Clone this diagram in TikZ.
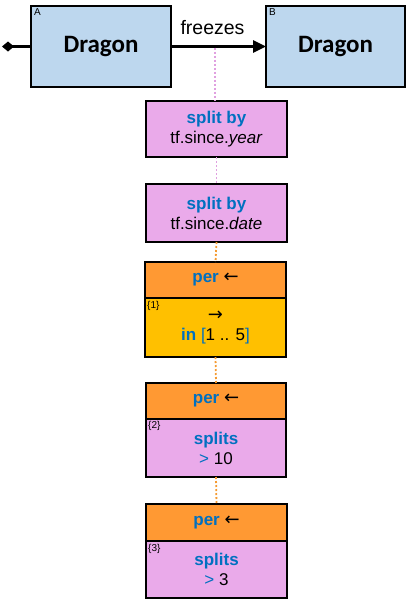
\documentclass[tikz,border=0pt]{standalone}
\usepackage{fontspec}
\setmainfont{Liberation Sans}
\newfontfamily\calfont{Carlito}
\newfontfamily\arrfont{DejaVu Sans}
\usetikzlibrary{arrows.meta}
\definecolor{ent}{HTML}{BDD7EE}
\definecolor{pk}{HTML}{EAAAEA}
\definecolor{orh}{HTML}{FF9933}
\definecolor{yel}{HTML}{FFC000}
\definecolor{bt}{HTML}{0070C0}
\definecolor{pkline}{HTML}{E0A0E0}
\definecolor{orline}{HTML}{F59A30}
\tikzset{
  entbox/.style={draw=black,line width=2.6pt,fill=ent,inner sep=0pt,outer sep=0pt,font=\calfont\bfseries\fontsize{25}{27}\selectfont},
  opbox/.style={draw=black,line width=2.6pt,inner sep=0pt,outer sep=0pt,align=center,font=\fontsize{17}{20}\selectfont},
  conn/.style={line width=2.6pt},
  pkdot/.style={pkline,line width=1.8pt,dash pattern=on 2pt off 2pt},
  ordot/.style={orline,line width=1.8pt,dash pattern=on 2pt off 2pt},
  tag/.style={inner sep=0pt,anchor=north west,font=\fontsize{10}{11}\selectfont}
}
\newcommand{\kwd}[1]{\textcolor{bt}{\bfseries #1}}
\newcommand{\la}{{\arrfont\fontsize{18}{20}\selectfont ←}}
\newcommand{\ra}{{\arrfont\fontsize{18}{20}\selectfont →}}
\begin{document}
\begin{tikzpicture}[x=1pt,y=-1pt]
\useasboundingbox (0,0) rectangle (408,600);
% entities
\node[entbox,minimum width=140pt,minimum height=81pt] (A) at (101,46.5) {Dragon};
\node[entbox,minimum width=139pt,minimum height=81pt] (B) at (335.5,46.5) {Dragon};
\node[tag] (tA) at (34,8) {A};
\node[tag] (tB) at (269,8) {B};
\coordinate (start) at (2,46.5);
\draw[conn,{Diamond[length=12pt,width=10pt]}-] (start) -- (A.west);
\draw[conn,-{Triangle[length=13pt,width=12pt]}] (A.east) -- (B.west);
\node[inner sep=0pt,font=\fontsize{19.5}{22}\selectfont] (lbl) at (212.5,28) {freezes};
\coordinate (mid) at (215,47.5);
% boxes
\node[opbox,fill=pk,minimum width=141pt,minimum height=56pt] (s1) at (216.5,129) {\kwd{split by}\\tf.since.\textit{year}};
\node[opbox,fill=pk,minimum width=141pt,minimum height=58pt] (s2) at (216.5,213) {\kwd{split by}\\tf.since.\textit{date}};
% box 3
\node[opbox,fill=orh,minimum width=141pt,minimum height=36pt] (h3) at (215.5,280) {\kwd{per} \la};
\node[opbox,fill=yel,minimum width=141pt,minimum height=59pt] (l3) at (215.5,327.5) {\ra\\\kwd{in} \textcolor{bt}{[}1 .. 5\textcolor{bt}{]}};
\node[tag] (t3) at (147,301) {\{1\}};
% box 4
\node[opbox,fill=orh,minimum width=140pt,minimum height=36pt] (h4) at (216,401) {\kwd{per} \la};
\node[opbox,fill=pk,minimum width=140pt,minimum height=58pt] (l4) at (216,448) {\kwd{splits}\\\textcolor{bt}{>} 10};
\node[tag] (t4) at (148,421.5) {\{2\}};
% box 5
\node[opbox,fill=orh,minimum width=141pt,minimum height=37pt] (h5) at (216.5,522.5) {\kwd{per} \la};
\node[opbox,fill=pk,minimum width=141pt,minimum height=57pt] (l5) at (216.5,569.5) {\kwd{splits}\\\textcolor{bt}{>} 3};
\node[tag] (t5) at (148,544) {\{3\}};
% dotted links
\draw[pkdot] (mid) -- (mid |- s1.north);
\draw[pkdot] (s1.south) -- (s2.north);
\draw[ordot] (s2.south) -- (h3.north);
\draw[ordot] (l3.south) -- (h4.north);
\draw[ordot] (l4.south) -- (h5.north);
\end{tikzpicture}
\end{document}
